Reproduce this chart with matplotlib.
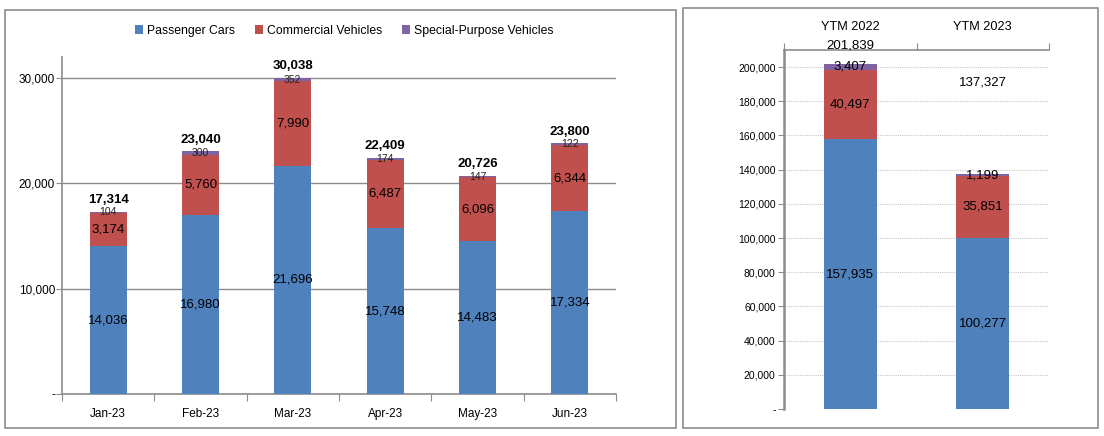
import numpy as np
import matplotlib.pyplot as plt
from matplotlib.patches import Rectangle

plt.rcParams["font.family"] = ["Liberation Sans", "DejaVu Sans"]

# monthly sales, H1 2023
months = ["Jan-23", "Feb-23", "Mar-23", "Apr-23", "May-23", "Jun-23"]
passenger = [14036, 16980, 21696, 15748, 14483, 17334]
commercial = [3174, 5760, 7990, 6487, 6096, 6344]
special = [104, 300, 352, 174, 147, 122]

# year-to-month comparison
ytm_labels = ["YTM 2022", "YTM 2023"]
ytm_passenger = [157935, 100277]
ytm_commercial = [40497, 35851]
ytm_special = [3407, 1199]

BLUE, RED, PURPLE = "#4F81BD", "#C0504D", "#8064A2"
GRAY = "#8C8C8C"

W, H = 1104, 436
fig = plt.figure(figsize=(W / 100, H / 100), dpi=100)

# panel frames
fig.patches.append(Rectangle((5 / W, 1 - 428 / H), 671 / W, 418 / H, transform=fig.transFigure,
                             fill=False, ec=GRAY, lw=1.2))
fig.patches.append(Rectangle((683 / W, 1 - 428 / H), 415 / W, 420 / H, transform=fig.transFigure,
                             fill=False, ec=GRAY, lw=1.2))

# ---------- left: monthly ----------
ax = fig.add_axes([62 / W, 1 - 394 / H, 554 / W, 337 / H])
x = np.arange(len(months))
p = np.array(passenger)
c = np.array(commercial)
s = np.array(special)
tot = p + c + s
bw = 0.4
ax.bar(x, p, bw, color=BLUE, label="Passenger Cars", zorder=3)
ax.bar(x, c, bw, bottom=p, color=RED, label="Commercial Vehicles", zorder=3)
ax.bar(x, s, bw, bottom=p + c, color=PURPLE, label="Special-Purpose Vehicles", zorder=3)

for i in range(len(months)):
    ax.text(x[i], p[i] / 2, f"{p[i]:,}", ha="center", va="center", fontsize=9.5, zorder=4)
    ax.text(x[i], p[i] + c[i] / 2, f"{c[i]:,}", ha="center", va="center", fontsize=9.5, zorder=4)
    ax.text(x[i], p[i] + c[i] + s[i] / 2, f"{s[i]:,}", ha="center", va="center", fontsize=7.5,
            color="#222222", zorder=4)
    ax.annotate(f"{tot[i]:,}", (x[i], tot[i]), xytext=(0, 4), textcoords="offset points",
                ha="center", va="bottom", fontsize=9.5, fontweight="bold")

ax.set_xlim(-0.5, len(months) - 0.5)
ax.set_ylim(0, 32000)
ax.set_yticks([0, 10000, 20000, 30000])
ax.set_yticklabels(["-", "10,000", "20,000", "30,000"], fontsize=8.5)
ax.yaxis.grid(True, color=GRAY, lw=1, zorder=0)
ax.set_xticks(np.arange(len(months) + 1) - 0.5)
ax.set_xticklabels([])
ax.set_xticks(x, minor=True)
ax.set_xticklabels(months, minor=True, fontsize=8.5)
ax.tick_params(axis="x", which="minor", length=0, pad=10)
ax.tick_params(axis="x", which="major", length=5, color=GRAY)
ax.tick_params(axis="y", length=4, color=GRAY, pad=1)
for side in ["top", "right"]:
    ax.spines[side].set_visible(False)
for side in ["left", "bottom"]:
    ax.spines[side].set_color(GRAY)
    ax.spines[side].set_linewidth(1.2)

handles, labels = ax.get_legend_handles_labels()
fig.legend(handles, labels, loc="center", bbox_to_anchor=(344 / W, 1 - 31 / H), ncol=3,
           frameon=False, fontsize=8.8, handlelength=0.7, handleheight=0.7,
           handletextpad=0.3, columnspacing=1.6)

# ---------- right: year to month ----------
ax2 = fig.add_axes([784 / W, 1 - 409 / H, 265 / W, 359 / H])
xy = np.arange(len(ytm_labels))
yp = np.array(ytm_passenger)
yc = np.array(ytm_commercial)
ys = np.array(ytm_special)
ytot = yp + yc + ys
ax2.bar(xy, yp, bw, color=BLUE, zorder=3)
ax2.bar(xy, yc, bw, bottom=yp, color=RED, zorder=3)
ax2.bar(xy, ys, bw, bottom=yp + yc, color=PURPLE, zorder=3)
for i in range(len(ytm_labels)):
    ax2.text(xy[i], yp[i] / 2, f"{yp[i]:,}", ha="center", va="center", fontsize=9.5, zorder=4)
    ax2.text(xy[i], yp[i] + yc[i] / 2, f"{yc[i]:,}", ha="center", va="center", fontsize=9.5, zorder=4)
    ax2.text(xy[i], yp[i] + yc[i] + ys[i] / 2, f"{ys[i]:,}", ha="center", va="center", fontsize=9.5,
             zorder=4)

ymax2 = 210000
ax2.set_xlim(-0.5, len(ytm_labels) - 0.5)
ax2.set_ylim(0, ymax2)
# total labels (Excel put them oddly)
ax2.annotate(f"{ytot[0]:,}", (xy[0], ymax2), xytext=(0, 3), textcoords="offset points",
             ha="center", va="center", fontsize=9.5, annotation_clip=False)
ax2.text(xy[1], 191000, f"{ytot[1]:,}", ha="center", va="center", fontsize=9.5)

ax2.set_yticks(np.arange(0, 200001, 20000))
ax2.set_yticklabels(["-"] + [f"{v:,}" for v in range(20000, 200001, 20000)], fontsize=7.5)
ax2.yaxis.grid(True, color="#C8C8C8", lw=0.8, ls=(0, (1, 1)), zorder=0)
ax2.xaxis.set_ticks_position("top")
ax2.set_xticks(np.arange(len(ytm_labels) + 1) - 0.5)
ax2.set_xticklabels([])
ax2.set_xticks(xy, minor=True)
ax2.set_xticklabels(ytm_labels, minor=True, fontsize=9.2)
ax2.tick_params(axis="x", which="minor", length=0, pad=12, top=True, bottom=False)
ax2.tick_params(axis="x", which="major", length=5, color=GRAY, top=True, bottom=False)
ax2.tick_params(axis="y", length=4, color=GRAY, pad=2)
for side in ["bottom", "right"]:
    ax2.spines[side].set_visible(False)
for side in ["left", "top"]:
    ax2.spines[side].set_color(GRAY)
    ax2.spines[side].set_linewidth(1.2)
ax2.spines["left"].set_linewidth(1.8)

fig.savefig("out.png", dpi=100)
